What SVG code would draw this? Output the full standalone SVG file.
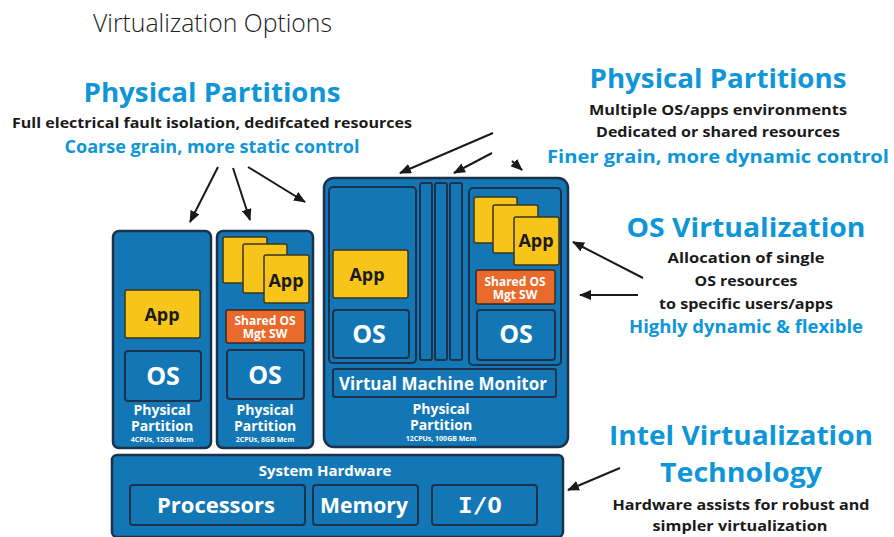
<svg xmlns="http://www.w3.org/2000/svg" width="894" height="537" viewBox="0 0 894 537">
<defs>
<marker id="ah" viewBox="0 0 12 10" refX="11" refY="5" markerWidth="12" markerHeight="10" markerUnits="userSpaceOnUse" orient="auto">
<path d="M0,0 L12,5 L0,10 Z" fill="#1a1a1a"/>
</marker>
<style>
text{font-family:"Open Sans","Noto Sans","Liberation Sans",sans-serif;font-weight:700;text-anchor:middle}
.ttl{font-weight:300;fill:#222;text-anchor:start}
.hb{fill:#0e96d8;font-size:27px}
.hm{fill:#0e96d8;font-size:17px}
.bk{fill:#1a1a1a;font-size:15px}
.box{fill:#1377b6;stroke:#1c324a;stroke-width:2.5}
.inner{fill:#1377b6;stroke:#1c324a;stroke-width:2}
.app{fill:#f7c41a;stroke:#3a3420;stroke-width:1.5}
.sh{fill:#ea6a2b;stroke:#3a2a20;stroke-width:1.5}
.at{fill:#1a1a1a;font-size:18px}
.os{fill:#fff;font-size:25px}
.sw{fill:#fff;font-size:12px}
.pp{fill:#fff;font-size:14px}
.sm{font-size:7px}
.hw{fill:#fff;font-size:22px}
.conn line{stroke:#1a1a1a;stroke-width:2;marker-end:url(#ah)}
</style>
</defs>
<rect width="894" height="537" fill="#fff"/>
<text class="ttl" x="93" y="32" font-size="25" textLength="239" lengthAdjust="spacingAndGlyphs">Virtualization Options</text>

<g id="label-physical-left">
<text class="hb" x="212" y="102" textLength="257" lengthAdjust="spacingAndGlyphs">Physical Partitions</text>
<text class="bk" x="212" y="128" textLength="400" lengthAdjust="spacingAndGlyphs">Full electrical fault isolation, dedifcated resources</text>
<text class="hm" x="212" y="153" textLength="295" lengthAdjust="spacingAndGlyphs">Coarse grain, more static control</text>
</g>

<g id="label-physical-right">
<text class="hb" x="718" y="88" textLength="257" lengthAdjust="spacingAndGlyphs">Physical Partitions</text>
<text class="bk" x="718" y="115" textLength="258" lengthAdjust="spacingAndGlyphs">Multiple OS/apps environments</text>
<text class="bk" x="718" y="137" textLength="244" lengthAdjust="spacingAndGlyphs">Dedicated or shared resources</text>
<text class="hm" x="718" y="163" font-size="18" textLength="342" lengthAdjust="spacingAndGlyphs">Finer grain, more dynamic control</text>
</g>

<g id="label-os-virt">
<text class="hb" x="746" y="237" font-size="30" textLength="239" lengthAdjust="spacingAndGlyphs">OS Virtualization</text>
<text class="bk" x="746" y="263" textLength="157" lengthAdjust="spacingAndGlyphs">Allocation of single</text>
<text class="bk" x="746" y="286" textLength="103" lengthAdjust="spacingAndGlyphs">OS resources</text>
<text class="bk" x="746" y="309" textLength="174" lengthAdjust="spacingAndGlyphs">to specific users/apps</text>
<text class="hm" x="746" y="333" textLength="234" lengthAdjust="spacingAndGlyphs">Highly dynamic &amp; flexible</text>
</g>

<g id="label-intel-vt">
<text class="hb" x="741" y="445" font-size="30" textLength="264" lengthAdjust="spacingAndGlyphs">Intel Virtualization</text>
<text class="hb" x="741" y="482" font-size="30" textLength="162" lengthAdjust="spacingAndGlyphs">Technology</text>
<text class="bk" x="741" y="510" textLength="257" lengthAdjust="spacingAndGlyphs">Hardware assists for robust and</text>
<text class="bk" x="740" y="531" textLength="175" lengthAdjust="spacingAndGlyphs">simpler virtualization</text>
</g>

<g id="partition-1">
<rect class="box" x="113" y="231" width="98" height="217" rx="6"/>
<rect class="app" x="125" y="290" width="75" height="48" rx="2"/>
<text class="at" x="162" y="321">App</text>
<rect class="inner" x="125" y="351" width="76" height="50" rx="3"/>
<text class="os" x="163" y="385">OS</text>
<text class="pp"><tspan x="162" y="415">Physical</tspan><tspan x="162" y="431">Partition</tspan><tspan class="sm" x="162" y="442">4CPUs, 12GB Mem</tspan></text>
</g>

<g id="partition-2">
<rect class="box" x="217" y="231" width="96" height="217" rx="6"/>
<rect class="app" x="223" y="237" width="44" height="46" rx="2"/>
<rect class="app" x="243" y="244" width="44" height="49" rx="2"/>
<rect class="app" x="264" y="255" width="45" height="48" rx="2"/>
<text class="at" x="286" y="287">App</text>
<rect class="sh" x="226" y="310" width="79" height="33" rx="2"/>
<text class="sw"><tspan x="265" y="325">Shared OS</tspan><tspan x="265" y="338">Mgt SW</tspan></text>
<rect class="inner" x="227" y="350" width="77" height="49" rx="3"/>
<text class="os" x="265" y="384">OS</text>
<text class="pp"><tspan x="265" y="415">Physical</tspan><tspan x="265" y="431">Partition</tspan><tspan class="sm" x="265" y="442">2CPUs, 8GB Mem</tspan></text>
</g>

<g id="partition-3">
<rect class="box" x="324" y="178" width="244" height="269" rx="10"/>
<g id="vm-left">
<rect class="inner" x="329" y="187" width="87" height="176" rx="4"/>
<rect class="app" x="333" y="250" width="75" height="48" rx="2"/>
<text class="at" x="367" y="281">App</text>
<rect class="inner" x="333" y="310" width="76" height="48" rx="3"/>
<text class="os" x="369" y="343">OS</text>
</g>
<rect class="inner" x="420" y="183" width="12" height="177" rx="2"/>
<rect class="inner" x="435" y="183" width="12" height="177" rx="2"/>
<rect class="inner" x="450" y="183" width="12" height="177" rx="2"/>
<g id="vm-right">
<rect class="inner" x="469" y="188" width="92" height="177" rx="4"/>
<rect class="app" x="474" y="197" width="43" height="46" rx="2"/>
<rect class="app" x="493" y="205" width="45" height="48" rx="2"/>
<rect class="app" x="514" y="217" width="45" height="48" rx="2"/>
<text class="at" x="536" y="247">App</text>
<rect class="sh" x="476" y="270" width="79" height="34" rx="2"/>
<text class="sw"><tspan x="515" y="286">Shared OS</tspan><tspan x="515" y="299">Mgt SW</tspan></text>
<rect class="inner" x="477" y="310" width="78" height="50" rx="3"/>
<text class="os" x="516" y="343">OS</text>
</g>
<g id="vmm">
<rect class="inner" x="333" y="369" width="223" height="28" rx="2"/>
<text fill="#fff" font-size="17" x="443" y="390" textLength="208" lengthAdjust="spacingAndGlyphs">Virtual Machine Monitor</text>
</g>
<text class="pp"><tspan x="441" y="414">Physical</tspan><tspan x="441" y="430">Partition</tspan><tspan class="sm" x="441" y="441">12CPUs, 100GB Mem</tspan></text>
</g>

<g id="system-hardware">
<rect class="box" x="112" y="455" width="451" height="82" rx="5"/>
<text fill="#fff" font-size="15" x="325" y="476">System Hardware</text>
<g id="processors">
<rect class="inner" x="130" y="485" width="175" height="40" rx="3"/>
<text class="hw" x="216" y="513" textLength="118" lengthAdjust="spacingAndGlyphs">Processors</text>
</g>
<g id="memory">
<rect class="inner" x="313" y="485" width="105" height="40" rx="3"/>
<text class="hw" x="364" y="513" textLength="88" lengthAdjust="spacingAndGlyphs">Memory</text>
</g>
<g id="io">
<rect class="inner" x="432" y="485" width="105" height="40" rx="3"/>
<text class="hw" x="480" y="513" style="font-family:'DejaVu Sans Mono','Liberation Mono',monospace" textLength="44" lengthAdjust="spacingAndGlyphs">I/O</text>
</g>
</g>

<g id="connectors" class="conn">
<line x1="218" y1="167" x2="190" y2="222"/>
<line x1="233" y1="168" x2="250" y2="220"/>
<line x1="248" y1="167" x2="305" y2="202"/>
<line x1="493" y1="133" x2="400" y2="173"/>
<line x1="492" y1="153" x2="454" y2="173"/>
<line x1="512" y1="161" x2="522" y2="170"/>
<line x1="643" y1="278" x2="573" y2="242"/>
<line x1="638" y1="295" x2="580" y2="295"/>
<line x1="620" y1="468" x2="568" y2="490"/>
</g>
</svg>
